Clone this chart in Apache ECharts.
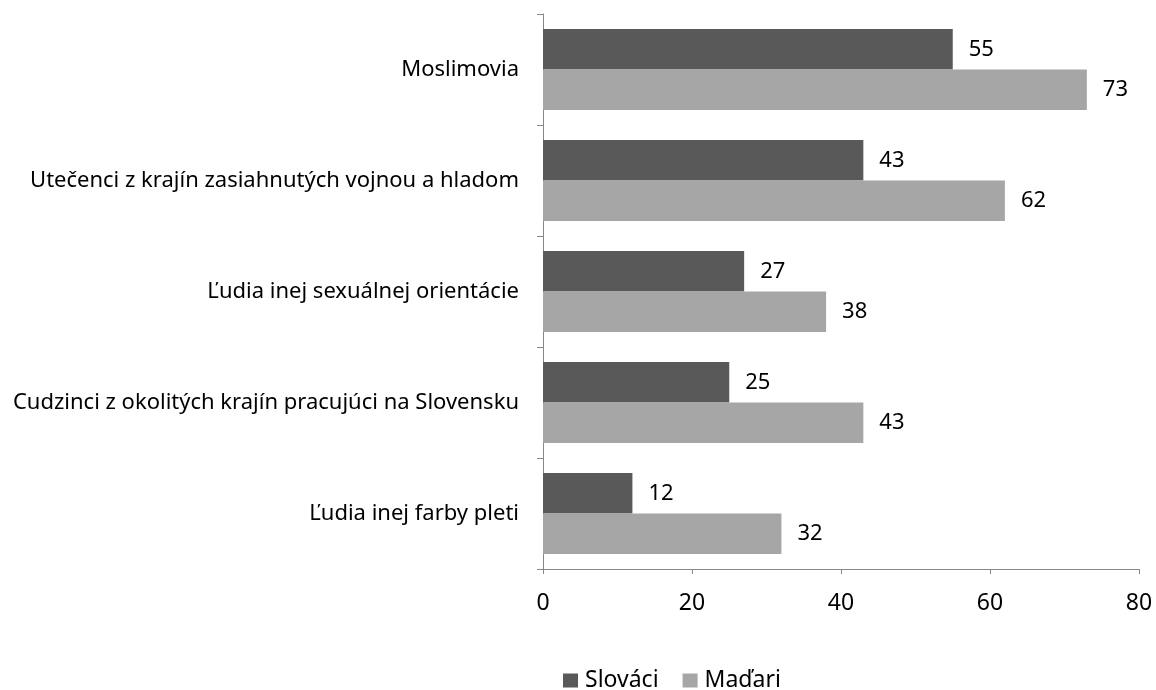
<!DOCTYPE html>
<html><head><meta charset="utf-8">
<script src="https://cdn.jsdelivr.net/npm/echarts@6/dist/echarts.min.js"></script>
<style>html,body{margin:0;padding:0;background:#fff}#c{width:1156px;height:690px}</style>
</head><body><div id="c"></div>
<script>
const categories = ["Moslimovia","Utečenci z krajín zasiahnutých vojnou a hladom","Ľudia inej sexuálnej orientácie","Cudzinci z okolitých krajín pracujúci na Slovensku","Ľudia inej farby pleti"];
const slovaci = [55,43,27,25,12];
const madari = [73,62,38,43,32];
const seriesNames = ["Slováci","Maďari"];
const xTicks = {min:0,max:80,interval:20};
const FONT = "Noto Sans";
const chart = echarts.init(document.getElementById('c'));
const lbl = {show:true,position:'right',distance:16,color:'#000',fontSize:22,fontFamily:FONT};
chart.setOption({
  animation:false,
  textStyle:{fontFamily:FONT},
  grid:{left:543,right:17,top:14,bottom:121,containLabel:false},
  legend:{top:664,left:558,itemWidth:15,itemHeight:14,itemGap:24,icon:'rect',
    textStyle:{fontSize:23,color:'#000',fontFamily:FONT,padding:[0,0,0,2]},data:seriesNames},
  xAxis:{type:'value',min:xTicks.min,max:xTicks.max,interval:xTicks.interval,
    splitLine:{show:false},
    axisLine:{show:true,lineStyle:{color:'#888'}},
    axisTick:{show:true,length:5,lineStyle:{color:'#888'}},
    axisLabel:{fontSize:23,color:'#000',margin:23,fontFamily:FONT}},
  yAxis:{type:'category',data:categories,inverse:true,
    axisLine:{show:true,lineStyle:{color:'#888'}},
    axisTick:{show:true,length:6,lineStyle:{color:'#888'}},
    axisLabel:{fontSize:22,color:'#000',margin:24,fontFamily:FONT}},
  series:[
    {name:seriesNames[0],type:'bar',data:slovaci,itemStyle:{color:'#595959'},label:lbl,barGap:'0%',barCategoryGap:'27%'},
    {name:seriesNames[1],type:'bar',data:madari,itemStyle:{color:'#a6a6a6'},label:lbl,barGap:'0%',barCategoryGap:'27%'}
  ]
});
</script></body></html>
